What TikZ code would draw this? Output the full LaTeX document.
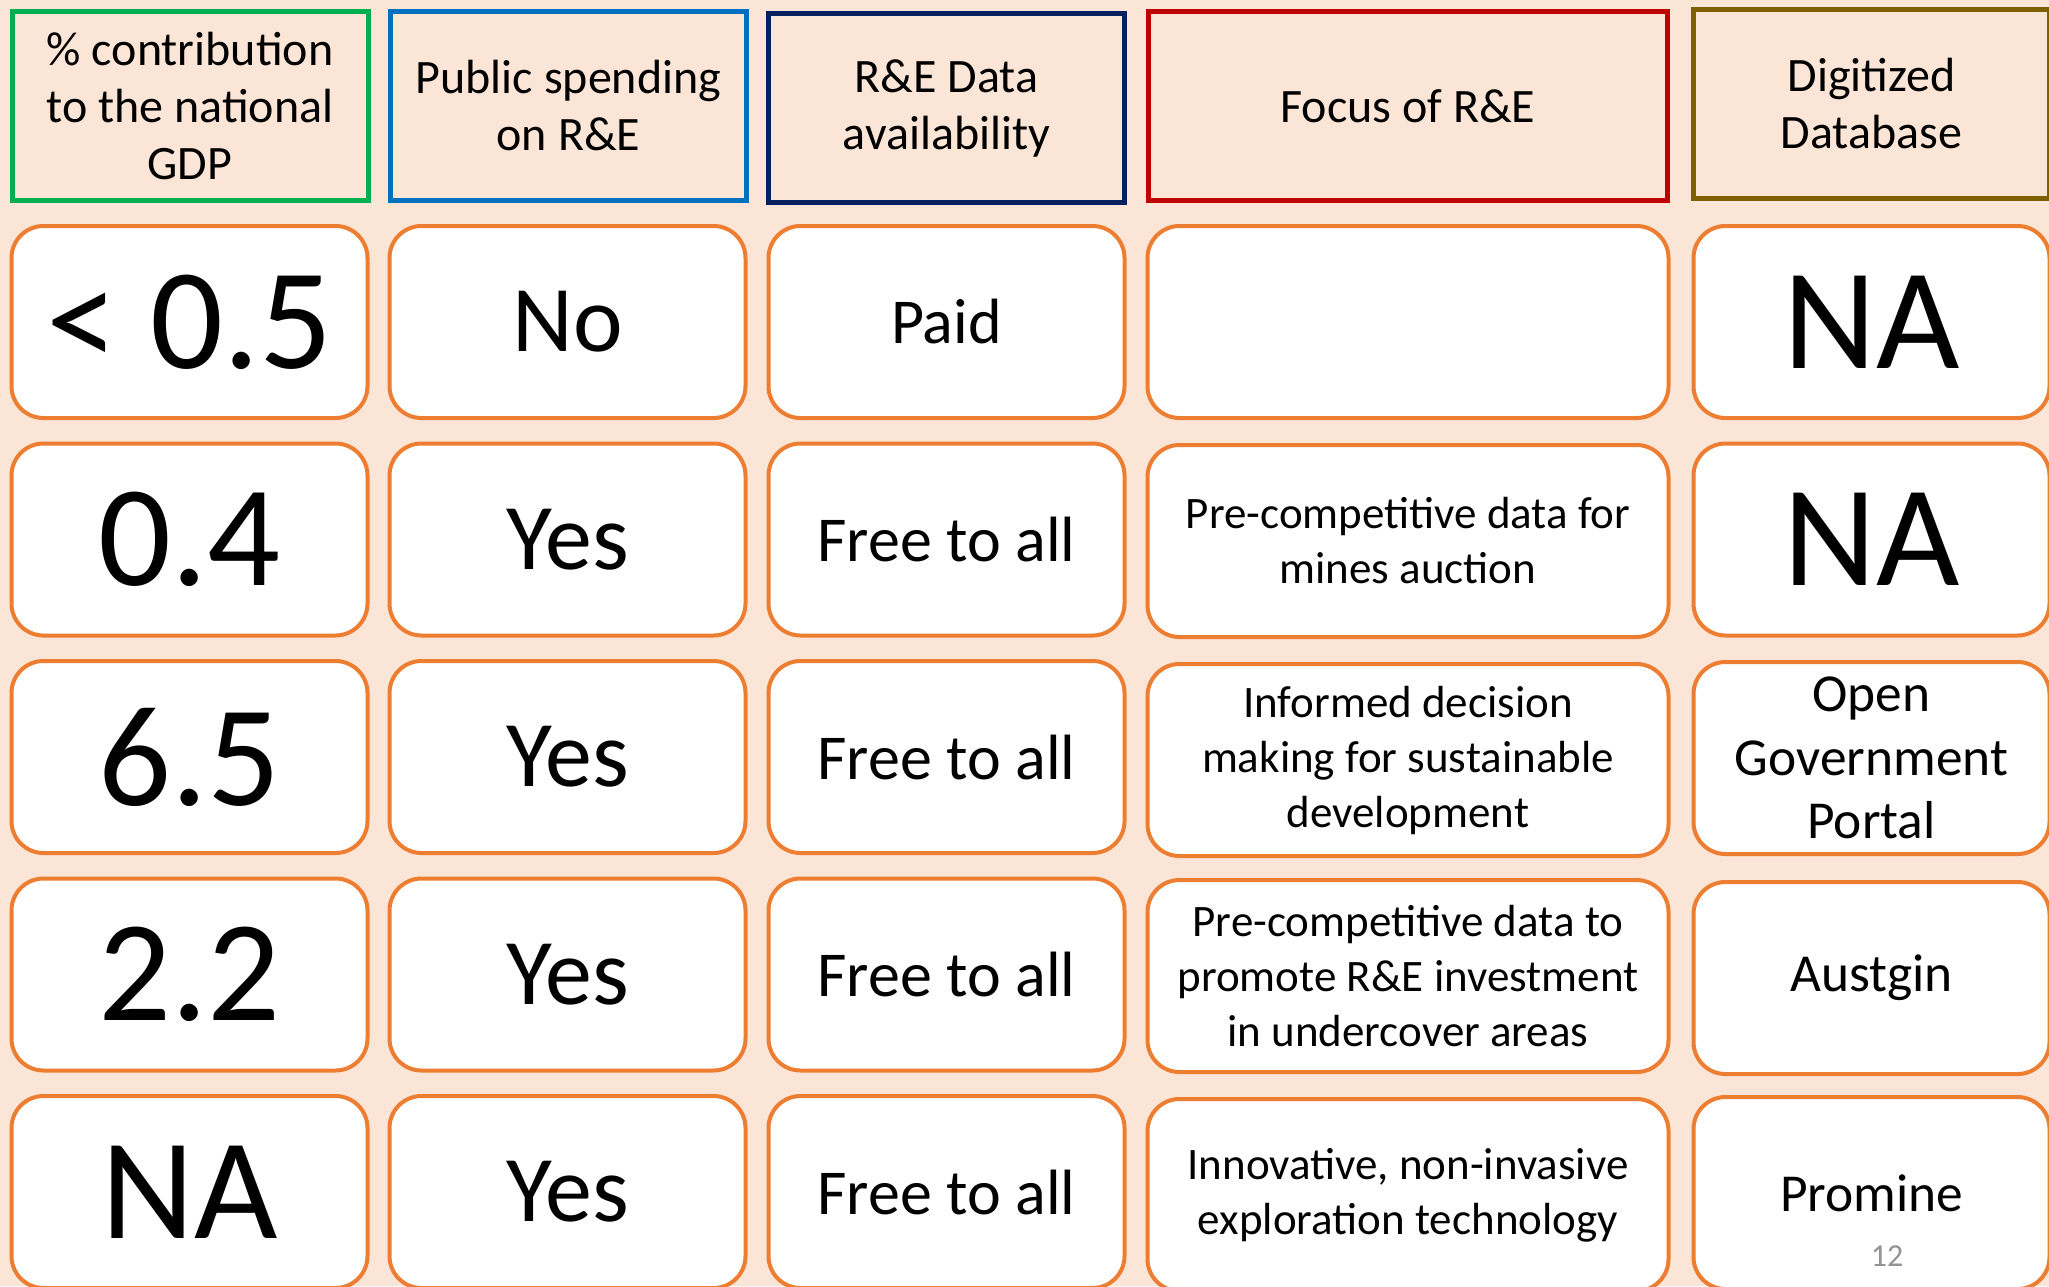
\documentclass[tikz,border=0pt]{standalone}
\usepackage{fontspec}
\setmainfont{Carlito}
\usepackage{tikz}
\definecolor{slidebg}{HTML}{FBE5D6}
\definecolor{cellorange}{HTML}{ED7D31}
\definecolor{gdpgreen}{HTML}{00B050}
\definecolor{spendblue}{HTML}{0070C0}
\definecolor{datanavy}{HTML}{002060}
\definecolor{focusred}{HTML}{C00000}
\definecolor{dbolive}{HTML}{7F6000}
\newcommand{\headSize}[0]{\fontsize{24}{28.5}\selectfont}
\newcommand{\bigSize}[0]{\fontsize{72}{80}\selectfont}

\begin{document}
\begin{tikzpicture}[x=0.5pt, y=-0.5pt]
  \tikzset{headbox/.style={draw, line width=2.5pt, fill=slidebg, minimum width=178pt,
      minimum height=94.5pt, align=center, inner sep=2pt, font=\headSize},
    cellbox/.style={draw=cellorange, line width=2pt, fill=white, rounded corners=16pt,
      minimum width=178pt, minimum height=96pt, align=center, inner sep=2pt},
    widecell/.style={cellbox, minimum width=260.5pt},
    numtext/.style={font=\bigSize},
    yesno/.style={font=\fontsize{47}{54}\selectfont},
    access/.style={font=\fontsize{32}{38}\selectfont},
    focustext/.style={font=\fontsize{22.5}{27.5}\selectfont},
    dbtext/.style={font=\fontsize{26.7}{31.7}\selectfont}}
  \fill[slidebg] (0,0) rectangle (2049,1286);
  \useasboundingbox (0,0) rectangle (2049,1286);
  % header row
  \node[headbox, draw=gdpgreen] (hGDP) at (190,106) {\% contribution\\to the national\\GDP};
  \node[headbox, draw=spendblue] (hSpend) at (568.5,106) {Public spending\\on R\&E};
  \node[headbox, draw=datanavy] (hData) at (946.5,108) {R\&E Data\\availability};
  \node[headbox, draw=focusred, minimum width=259.5pt] (hFocus) at (1408,106) {Focus of R\&E};
  \node[headbox, draw=dbolive] (hBase) at (1871.5,104) {Digitized\\Database};
  % row 1
  \node[cellbox, numtext] (gdpA) at (189.5,322) {< 0.5};
  \node[cellbox, yesno] (spendA) at (567.5,322) {No};
  \node[cellbox, access] (dataA) at (946.5,322) {Paid};
  \node[widecell] (focusA) at (1408,322) {};
  \node[cellbox, numtext] (baseA) at (1871.5,322) {NA};
  % row 2
  \node[cellbox, numtext] (gdpB) at (189.5,539.5) {0.4};
  \node[cellbox, yesno] (spendB) at (567.5,539.5) {Yes};
  \node[cellbox, access] (dataB) at (946.5,539.5) {Free to all};
  \node[widecell, focustext] (focusB) at (1408,541) {Pre-competitive data for\\mines auction};
  \node[cellbox, numtext] (baseB) at (1871.5,539.5) {NA};
  % row 3
  \node[cellbox, numtext] (gdpC) at (189.5,757) {6.5};
  \node[cellbox, yesno] (spendC) at (567.5,757) {Yes};
  \node[cellbox, access] (dataC) at (946.5,757) {Free to all};
  \node[widecell, focustext] (focusC) at (1408,760) {Informed decision\\making for sustainable\\development};
  \node[cellbox, dbtext] (baseC) at (1871.5,758) {Open\\Government\\Portal};
  % row 4
  \node[cellbox, numtext] (gdpD) at (189.5,974.5) {2.2};
  \node[cellbox, yesno] (spendD) at (567.5,974.5) {Yes};
  \node[cellbox, access] (dataD) at (946.5,974.5) {Free to all};
  \node[widecell, focustext] (focusD) at (1408,976) {Pre-competitive data to\\promote R\&E investment\\in undercover areas};
  \node[cellbox, dbtext] (baseD) at (1871.5,978) {Austgin};
  % row 5
  \node[cellbox, numtext] (gdpE) at (189.5,1192) {NA};
  \node[cellbox, yesno] (spendE) at (567.5,1192) {Yes};
  \node[cellbox, access] (dataE) at (946.5,1192) {Free to all};
  \node[widecell, focustext] (focusE) at (1408,1195) {Innovative, non-invasive\\exploration technology};
  \node[cellbox, dbtext] (baseE) at (1871.5,1193) {Promine};
  \node[text=gray!85, font=\fontsize{16}{18}\selectfont] (pageNo) at (1887,1256) {12};
\end{tikzpicture}
\end{document}
